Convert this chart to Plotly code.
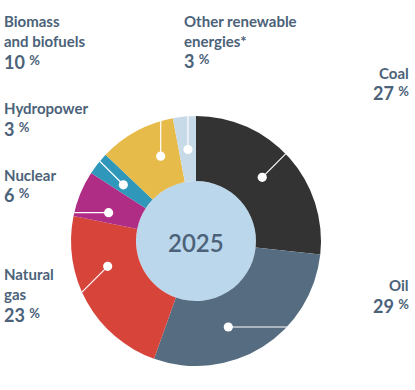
import math
import plotly.graph_objects as go

# ---------------- data ----------------
categories = ["Coal", "Oil", "Natural gas", "Nuclear", "Hydropower",
              "Biomass and biofuels", "Other renewable energies*"]
shares = [27, 29, 23, 6, 3, 10, 3]
label_lines = [["Coal"], ["Oil"], ["Natural", "gas"], ["Nuclear"], ["Hydropower"],
               ["Biomass", "and biofuels"], ["Other renewable", "energies*"]]
center_label = "2025"

# ---------------- style ----------------
slice_colors = ["#333333", "#566c80", "#d6443a", "#b02d86", "#2f97b9", "#e6bb4a", "#c6dae8"]
hole_color = "#bbd7ec"
text_color = "#4b6279"
FONT = "Lato"

W, H = 415, 390
CX, CY, R = 196, 241, 125      # pie centre / outer radius in pixels
HOLE_R = 60
DOT_R_FRAC = 0.735
DOT_SIZE = 4.6
NAME_SIZE, VALUE_SIZE, PCT_SIZE = 15, 18, 13

# label layout: x, anchor, baseline of name (last line), baseline of value,
# dot angle shift (deg), leader direction (deg, screen, 0=right, 90=up)
label_layout = [
    dict(x=409, anchor="right", name_base=79,  value_base=100, shift=-2.0, lead=45),
    dict(x=409, anchor="right", name_base=291, value_base=313, shift=11.5, lead=0),
    dict(x=4,   anchor="left",  name_base=300, value_base=322, shift=13.4, lead=225),
    dict(x=4,   anchor="left",  name_base=181, value_base=202, shift=-4.3, lead=180),
    dict(x=4,   anchor="left",  name_base=114, value_base=136, shift=-0.6, lead=135),
    dict(x=4,   anchor="left",  name_base=47,  value_base=69,  shift=5.9,  lead=90),
    dict(x=184, anchor="left",  name_base=47,  value_base=68,  shift=0.3,  lead=90),
]


def fx(px):
    return px / W


def fy(py):
    return 1 - py / H


fig = go.Figure()
fig.add_trace(go.Pie(
    labels=categories, values=shares, sort=False, direction="clockwise",
    rotation=0, hole=HOLE_R / R,
    marker=dict(colors=slice_colors, line=dict(width=0)),
    textinfo="none", hoverinfo="label+value", showlegend=False,
    domain=dict(x=[fx(CX - R), fx(CX + R)], y=[fy(CY + R), fy(CY - R)]),
))

shapes = []
annotations = []

# hole fill
shapes.append(dict(type="circle", xref="paper", yref="paper", layer="below",
                   x0=fx(CX - HOLE_R), x1=fx(CX + HOLE_R),
                   y0=fy(CY + HOLE_R), y1=fy(CY - HOLE_R),
                   fillcolor=hole_color, line=dict(width=0)))

total = sum(shares)
cum = 0
for i, v in enumerate(shares):
    lay = label_layout[i]
    mid = (cum + v / 2) / total * 360 + lay["shift"]   # clockwise from 12 o'clock
    cum += v
    a = math.radians(mid)
    rd = R * DOT_R_FRAC
    dx, dy = rd * math.sin(a), -rd * math.cos(a)      # screen coords (y down)
    # leader line to outer edge along given direction
    ld = math.radians(lay["lead"])
    ux, uy = math.cos(ld), -math.sin(ld)
    pd = dx * ux + dy * uy
    t = -pd + math.sqrt(pd * pd - (dx * dx + dy * dy - R * R))
    ex, ey = dx + t * ux, dy + t * uy
    shapes.append(dict(type="line", xref="paper", yref="paper", layer="above",
                       x0=fx(CX + dx), y0=fy(CY + dy), x1=fx(CX + ex), y1=fy(CY + ey),
                       line=dict(color="white", width=1.2)))
    shapes.append(dict(type="circle", xref="paper", yref="paper", layer="above",
                       x0=fx(CX + dx - DOT_SIZE), x1=fx(CX + dx + DOT_SIZE),
                       y0=fy(CY + dy + DOT_SIZE), y1=fy(CY + dy - DOT_SIZE),
                       fillcolor="white", line=dict(width=0)))
    # texts
    annotations.append(dict(
        text="<br>".join(label_lines[i]), xref="paper", yref="paper",
        x=fx(lay["x"]), y=fy(lay["name_base"] + 0.213 * NAME_SIZE),
        xanchor=lay["anchor"], yanchor="bottom", align=lay["anchor"],
        showarrow=False, borderpad=0, borderwidth=0,
        font=dict(family=FONT, size=NAME_SIZE, color=text_color, weight=700)))
    val_text = (f"<span style='font-size:{VALUE_SIZE}px'>{v} </span>"
                f"<sup><span style='font-size:{PCT_SIZE}px'>%</span></sup>")
    annotations.append(dict(
        text=val_text, xref="paper", yref="paper",
        x=fx(lay["x"]), y=fy(lay["value_base"] + 0.213 * VALUE_SIZE),
        xanchor=lay["anchor"], yanchor="bottom", align=lay["anchor"],
        showarrow=False, borderpad=0, borderwidth=0,
        font=dict(family=FONT, size=10, color=text_color, weight=700)))

annotations.append(dict(
    text=center_label, xref="paper", yref="paper",
    x=fx(CX), y=fy(251.7 - 0.387 * 24), xanchor="center", yanchor="middle",
    showarrow=False, borderpad=0, borderwidth=0,
    font=dict(family=FONT, size=24, color=text_color, weight=600)))

fig.update_layout(
    width=W, height=H, margin=dict(l=0, r=0, t=0, b=0),
    paper_bgcolor="white", plot_bgcolor="white",
    shapes=shapes, annotations=annotations,
)

fig.write_html("out.html", config={"displayModeBar": False},
               post_script="document.body.style.margin='0';document.body.style.overflow='hidden';")
